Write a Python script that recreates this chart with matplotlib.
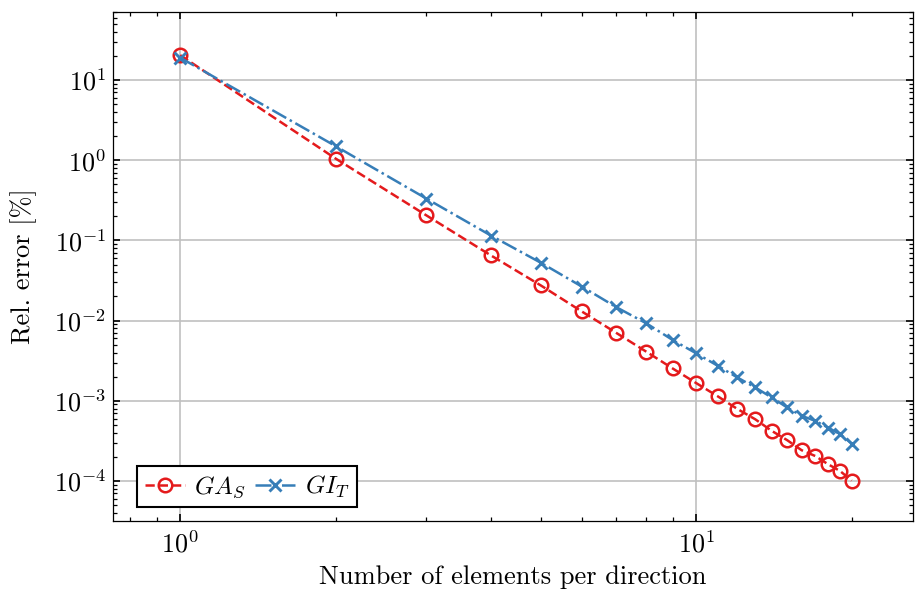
import numpy as np
import matplotlib
matplotlib.use("Agg")
import matplotlib.pyplot as plt

# elements per direction
n = np.arange(1, 21)

# relative error [%]
ga_s = [20.4, 1.05, 0.205, 0.065, 0.0274, 0.0130, 0.00702, 0.0041, 0.00253, 0.00166,
        0.00114, 0.000794, 0.00059, 0.000422, 0.000323, 0.000242, 0.000205, 0.000162,
        0.000133, 0.000101]
gi_t = [19.0, 1.5, 0.332, 0.115, 0.0526, 0.0266, 0.0147, 0.00926, 0.00573, 0.0039,
        0.00274, 0.00196, 0.00147, 0.0011, 0.000825, 0.00065, 0.000562, 0.000464,
        0.000383, 0.000293]

labels = [r"$GA_S$", r"$GI_T$"]

plt.rcParams["font.family"] = "serif"
plt.rcParams["font.serif"] = ["cmr10", "DejaVu Serif"]
plt.rcParams["mathtext.fontset"] = "cm"
plt.rcParams["axes.formatter.use_mathtext"] = True
plt.rcParams["xtick.direction"] = "in"
plt.rcParams["ytick.direction"] = "in"
plt.rcParams["xtick.top"] = True
plt.rcParams["ytick.right"] = True
plt.rcParams["xtick.minor.visible"] = True
plt.rcParams["ytick.minor.visible"] = True
plt.rcParams["xtick.major.size"] = 3.5
plt.rcParams["ytick.major.size"] = 3.5
plt.rcParams["xtick.minor.size"] = 2
plt.rcParams["ytick.minor.size"] = 2
plt.rcParams["axes.linewidth"] = 0.6

fig, ax = plt.subplots(figsize=(6.1, 3.94), dpi=150)

ax.plot(n, ga_s, "--", color="#e41a1c", marker="o", mfc="none", ms=6.5, mew=1.2,
        lw=1.2, label=labels[0])
ax.plot(n, gi_t, "-.", color="#377eb8", marker="x", ms=5.5, mew=1.4,
        lw=1.2, label=labels[1])

ax.set_xscale("log")
ax.set_yscale("log")
ax.set_xlim(0.741, 26.3)
ax.set_ylim(3.17e-5, 70.5)
ax.grid(True, which="major", color="#c0c0c0", lw=0.8)
ax.set_axisbelow(True)

ax.set_xlabel("Number of elements per direction", fontsize=12.7, labelpad=4)
ax.set_ylabel("Rel. error [%]", fontsize=12.7, labelpad=8)
ax.tick_params(labelsize=12.5)
ax.tick_params(axis="x", which="major", pad=4.5)

ax.legend(loc="lower left", bbox_to_anchor=(0.03, 0.0275), borderaxespad=0, ncol=2,
          fontsize=12, fancybox=False, edgecolor="black", framealpha=1,
          handlelength=1.6, columnspacing=0.35, handletextpad=0.4, borderpad=0.3)

fig.subplots_adjust(left=113/915, right=913/915, top=1 - 12/591, bottom=1 - 521/591)
fig.savefig("out.png", dpi=150)
